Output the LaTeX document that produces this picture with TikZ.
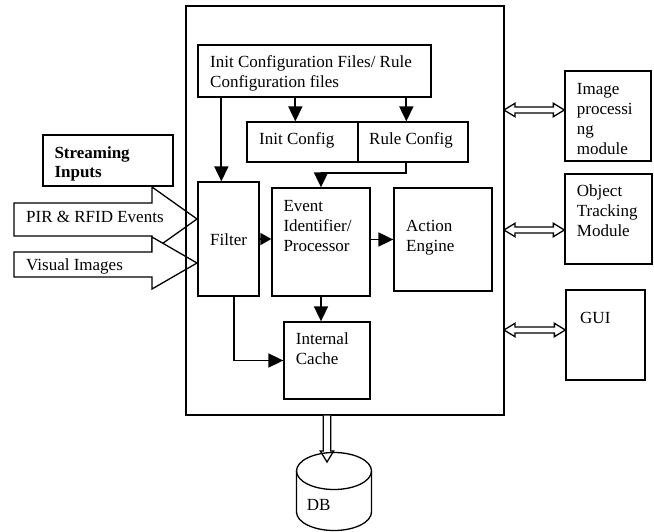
\documentclass[tikz,border=0pt]{standalone}
\usepackage{fontspec}
\setmainfont{Liberation Serif}
\usetikzlibrary{calc,arrows.meta}
\newcommand{\hollowh}[2]{%
  \draw[hol] let \p1=(#1), \p2=(#2) in
    (\x1,\y1) -- (\x1+11pt,\y1+6.7pt) -- (\x1+11pt,\y1+3pt) -- (\x2-11pt,\y2+3pt)
    -- (\x2-11pt,\y2+6.7pt) -- (\x2,\y2) -- (\x2-11pt,\y2-6.7pt) -- (\x2-11pt,\y2-3pt)
    -- (\x1+11pt,\y1-3pt) -- (\x1+11pt,\y1-6.7pt) -- cycle;}
\newcommand{\hollowv}[2]{%
  \draw[hol] let \p1=(#1), \p2=(#2) in
    (\x1-3.7pt,\y1) -- (\x1-3.7pt,\y2+11pt) -- (\x1-6.7pt,\y2+11pt) -- (\x2,\y2)
    -- (\x1+6.7pt,\y2+11pt) -- (\x1+3.7pt,\y2+11pt) -- (\x1+3.7pt,\y1);}
\begin{document}
\begin{tikzpicture}[
  box/.style={draw, line width=1.3pt, fill=white, inner sep=0pt},
  txt/.style={anchor=base west, inner sep=0pt, align=left, font=\fontsize{17}{20.2}\selectfont},
  arr/.style={line width=1.8pt, -{Triangle[length=15pt,width=14pt]}},
  sarr/.style={line width=1.8pt, -{Triangle[length=11pt,width=12pt]}},
  hol/.style={draw, line width=1.3pt, fill=white, line join=miter},
]
\useasboundingbox (0,0) rectangle (654pt,531pt);
\begin{scope}[x=1pt,y=-1pt,yshift=531pt]
  % streaming input arrows
  \draw[hol] (14,203) -- (152,203) -- (152,187) -- (197,219) -- (152,251) -- (152,236) -- (14,236) -- cycle;
  \node[box, minimum width=130pt, minimum height=51pt] (Stream) at (108,160.5) {};
  \draw[hol] (14,252) -- (152,252) -- (152,237) -- (197,263) -- (152,289) -- (152,277) -- (14,277) -- cycle;
  \node[txt] (tPIR) at (26,223) {PIR \& RFID Events};
  \node[txt] (tVis) at (26,270.5) {Visual Images};
  \node[txt, font=\fontsize{17}{19.5}\selectfont\bfseries] (tStream) at (54.3,178) {Streaming\\Inputs};

  % main box
  \node[draw, line width=1.3pt, inner sep=0pt, minimum width=318pt, minimum height=409pt] (Main) at (345,210.5) {};

  % inner boxes
  \node[box, minimum width=233pt, minimum height=52pt] (InitFiles) at (314.5,71) {};
  \node[box, minimum width=111pt, minimum height=40pt] (InitCfg) at (302.5,142) {};
  \node[box, minimum width=110pt, minimum height=40pt] (RuleCfg) at (413,142) {};
  \node[box, minimum width=61pt, minimum height=114pt] (Filter) at (228.5,239) {};
  \node[box, minimum width=98pt, minimum height=108pt] (Event) at (321,242) {};
  \node[box, minimum width=98pt, minimum height=103pt] (Action) at (443,239.5) {};
  \node[box, minimum width=86pt, minimum height=77pt] (Cache) at (327,360.5) {};

  % right boxes
  \node[box, minimum width=86pt, minimum height=90pt] (ImgProc) at (608,116) {};
  \node[box, minimum width=87pt, minimum height=90pt] (ObjTrack) at (608.5,219) {};
  \node[box, minimum width=79pt, minimum height=90pt] (GUI) at (605.5,335) {};

  % texts (anchor = baseline of last line)
  \node[txt] (tInitFiles) at (210,87.5) {Init Configuration Files/ Rule\\Configuration files};
  \node[txt] (tInitCfg) at (259,145) {Init Config};
  \node[txt] (tRuleCfg) at (369,145) {Rule Config};
  \node[txt] (tFilter) at (210,245.5) {Filter};
  \node[txt] (tEvent) at (283.3,251.5) {Event\\Identifier/\\Processor};
  \node[txt] (tAction) at (406,251.5) {Action\\Engine};
  \node[txt] (tCache) at (295.7,365) {Internal\\Cache};
  \node[txt] (tImg) at (576.7,155) {Image\\processi\\ng\\module};
  \node[txt] (tObj) at (576.7,237) {Object\\Tracking\\Module};
  \node[txt] (tGUI) at (580,323.5) {GUI};

  % connectors
  \draw[arr] ($(InitFiles.south west)+(98,0)$) -- ($(InitCfg.north west)+(49,0)$);
  \draw[arr] ($(InitFiles.south west)+(209,0)$) -- ($(RuleCfg.north west)+(49,0)$);
  \draw[arr] ($(InitFiles.south west)+(24,0)$) -- ($(Filter.north west)+(24,0)$);
  \draw[arr] ($(RuleCfg.south west)+(49,0)$) |- ($(Event.north)+(0,-14)$) -- (Event.north);
  \draw[sarr] (Filter.east) -- (Filter.east -| Event.west);
  \draw[arr] (Action.west -| Event.east) -- (Action.west);
  \draw[arr] (Event.south) -- (Event.south |- Cache.north);
  \draw[arr] ($(Filter.south west)+(37,0)$) |- (Cache.west);

  % double arrows to side modules
  \coordinate (r1) at (504,110);
  \coordinate (r2) at (504,230);
  \coordinate (r3) at (504,330);
  \hollowh{r1}{ImgProc.west |- r1}
  \hollowh{r2}{ObjTrack.west |- r2}
  \hollowh{r3}{GUI.west |- r3}

  % DB arrow
  \coordinate (dbtop) at (327,462);
  \hollowv{Main.south -| dbtop}{dbtop}
\end{scope}
% DB cylinder
\draw[line width=1.3pt] (334pt,60pt) ellipse [x radius=37.5pt, y radius=18.5pt];
\draw[line width=1.3pt] (296.5pt,60pt) -- (296.5pt,19pt) arc[start angle=180, end angle=360, x radius=37.5pt, y radius=18.5pt] -- (371.5pt,60pt);
\node[anchor=base west, inner sep=0pt, font=\fontsize{17}{20.2}\selectfont] (DB) at (306.7pt,20.5pt) {DB};
\end{tikzpicture}
\end{document}
